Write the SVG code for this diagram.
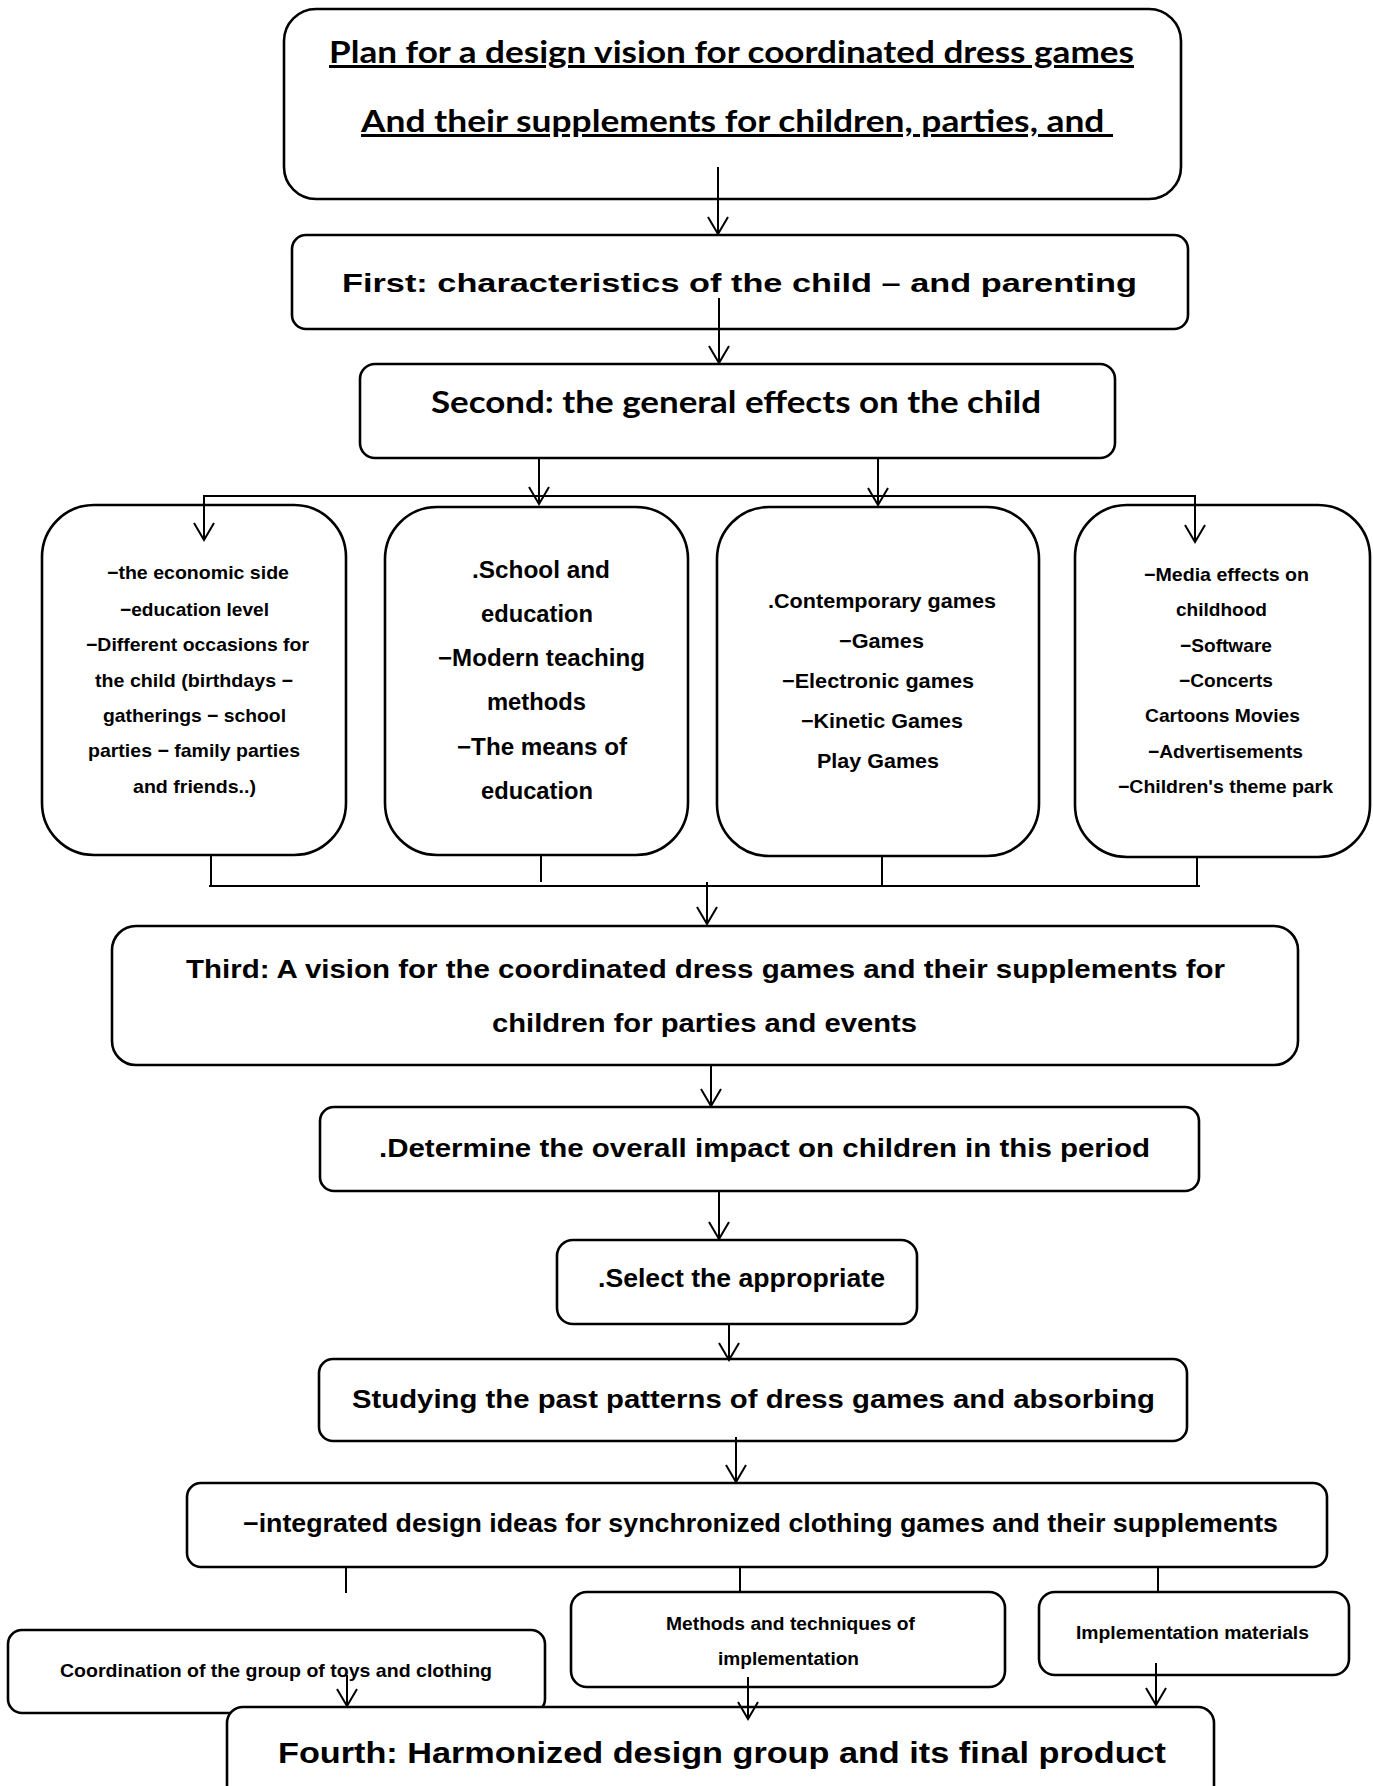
<svg xmlns="http://www.w3.org/2000/svg" width="1373" height="1786" viewBox="0 0 1373 1786">
<style>
.box{fill:#fff;stroke:#000;stroke-width:2.6}
.con{fill:none;stroke:#000;stroke-width:2}
.t{font-family:"Liberation Sans",Arial,sans-serif;font-weight:bold;fill:#000}
.c{font-family:Lato,"Open Sans",sans-serif;font-weight:bold;fill:#000}
</style>
<defs>
<marker id="arr" viewBox="-19 -12 21 24" refX="0" refY="0" markerWidth="21" markerHeight="24" markerUnits="userSpaceOnUse" orient="auto">
<path d="M-17,-10 L0,0 L-17,10" fill="none" stroke="#000" stroke-width="2"/>
</marker>
</defs>
<rect width="1373" height="1786" fill="#fff"/>

<g id="title">
<rect class="box" x="284" y="9" width="897" height="190" rx="32"/>
<text class="c" x="329" y="63" font-size="30" textLength="805" lengthAdjust="spacingAndGlyphs" text-decoration="underline">Plan for a design vision for coordinated dress games</text>
<text class="c" x="361" y="132" font-size="30" textLength="752" lengthAdjust="spacingAndGlyphs" text-decoration="underline" xml:space="preserve">And their supplements for children, parties, and </text>
</g>

<g id="first">
<rect class="box" x="292" y="235" width="896" height="94" rx="14"/>
<text class="t" x="342" y="292" font-size="26" textLength="795" lengthAdjust="spacingAndGlyphs">First: characteristics of the child – and parenting</text>
</g>

<g id="second">
<rect class="box" x="360" y="364" width="755" height="94" rx="15"/>
<text class="c" x="431" y="413" font-size="31" textLength="610" lengthAdjust="spacingAndGlyphs">Second: the general effects on the child</text>
</g>

<g id="boxA">
<rect class="box" x="42" y="505" width="304" height="350" rx="52"/>
<text class="t" x="107" y="579" font-size="19" textLength="182" lengthAdjust="spacingAndGlyphs">−the economic side</text>
<text class="t" x="120" y="616" font-size="19" textLength="149" lengthAdjust="spacingAndGlyphs">−education level</text>
<text class="t" x="86" y="651" font-size="19" textLength="223" lengthAdjust="spacingAndGlyphs">−Different occasions for</text>
<text class="t" x="95" y="687" font-size="19" textLength="198" lengthAdjust="spacingAndGlyphs">the child (birthdays −</text>
<text class="t" x="103" y="722" font-size="19" textLength="183" lengthAdjust="spacingAndGlyphs">gatherings − school</text>
<text class="t" x="88" y="757" font-size="19" textLength="212" lengthAdjust="spacingAndGlyphs">parties − family parties</text>
<text class="t" x="133" y="793" font-size="19" textLength="123" lengthAdjust="spacingAndGlyphs">and friends..)</text>
</g>

<g id="boxB">
<rect class="box" x="385" y="507" width="303" height="348" rx="52"/>
<text class="t" x="472" y="578" font-size="24" textLength="138" lengthAdjust="spacingAndGlyphs">.School and</text>
<text class="t" x="481" y="622" font-size="24" textLength="112" lengthAdjust="spacingAndGlyphs">education</text>
<text class="t" x="438" y="666" font-size="24" textLength="207" lengthAdjust="spacingAndGlyphs">−Modern teaching</text>
<text class="t" x="487" y="710" font-size="24" textLength="99" lengthAdjust="spacingAndGlyphs">methods</text>
<text class="t" x="457" y="755" font-size="24" textLength="170" lengthAdjust="spacingAndGlyphs">−The means of</text>
<text class="t" x="481" y="799" font-size="24" textLength="112" lengthAdjust="spacingAndGlyphs">education</text>
</g>

<g id="boxC">
<rect class="box" x="717" y="507" width="322" height="349" rx="52"/>
<text class="t" x="768" y="608" font-size="21" textLength="228" lengthAdjust="spacingAndGlyphs">.Contemporary games</text>
<text class="t" x="839" y="648" font-size="21" textLength="85" lengthAdjust="spacingAndGlyphs">−Games</text>
<text class="t" x="782" y="688" font-size="21" textLength="192" lengthAdjust="spacingAndGlyphs">−Electronic games</text>
<text class="t" x="801" y="728" font-size="21" textLength="162" lengthAdjust="spacingAndGlyphs">−Kinetic Games</text>
<text class="t" x="817" y="768" font-size="21" textLength="122" lengthAdjust="spacingAndGlyphs">Play Games</text>
</g>

<g id="boxD">
<rect class="box" x="1075" y="505" width="295" height="352" rx="52"/>
<text class="t" x="1144" y="581" font-size="19" textLength="165" lengthAdjust="spacingAndGlyphs">−Media effects on</text>
<text class="t" x="1176" y="616" font-size="19" textLength="91" lengthAdjust="spacingAndGlyphs">childhood</text>
<text class="t" x="1180" y="652" font-size="19" textLength="92" lengthAdjust="spacingAndGlyphs">−Software</text>
<text class="t" x="1179" y="687" font-size="19" textLength="94" lengthAdjust="spacingAndGlyphs">−Concerts</text>
<text class="t" x="1145" y="722" font-size="19" textLength="155" lengthAdjust="spacingAndGlyphs">Cartoons Movies</text>
<text class="t" x="1148" y="758" font-size="19" textLength="155" lengthAdjust="spacingAndGlyphs">−Advertisements</text>
<text class="t" x="1118" y="793" font-size="19" textLength="215" lengthAdjust="spacingAndGlyphs">−Children's theme park</text>
</g>

<g id="third">
<rect class="box" x="112" y="926" width="1186" height="139" rx="24"/>
<text class="t" x="186" y="978" font-size="25" textLength="1039" lengthAdjust="spacingAndGlyphs">Third: A vision for the coordinated dress games and their supplements for</text>
<text class="t" x="492" y="1032" font-size="25" textLength="425" lengthAdjust="spacingAndGlyphs">children for parties and events</text>
</g>

<g id="determine">
<rect class="box" x="320" y="1107" width="879" height="84" rx="14"/>
<text class="t" x="379" y="1157" font-size="25" textLength="771" lengthAdjust="spacingAndGlyphs">.Determine the overall impact on children in this period</text>
</g>

<g id="select">
<rect class="box" x="557" y="1240" width="360" height="84" rx="16"/>
<text class="t" x="598" y="1287" font-size="26" textLength="287" lengthAdjust="spacingAndGlyphs">.Select the appropriate</text>
</g>

<g id="studying">
<rect class="box" x="319" y="1359" width="868" height="82" rx="14"/>
<text class="t" x="352" y="1408" font-size="26" textLength="803" lengthAdjust="spacingAndGlyphs">Studying the past patterns of dress games and absorbing</text>
</g>

<g id="integrated">
<rect class="box" x="187" y="1483" width="1140" height="84" rx="14"/>
<text class="t" x="243" y="1532" font-size="25" textLength="1035" lengthAdjust="spacingAndGlyphs">−integrated design ideas for synchronized clothing games and their supplements</text>
</g>

<g id="coordination">
<rect class="box" x="8" y="1630" width="537" height="83" rx="14"/>
<text class="t" x="60" y="1677" font-size="19" textLength="432" lengthAdjust="spacingAndGlyphs">Coordination of the group of toys and clothing</text>
</g>

<g id="methods">
<rect class="box" x="571" y="1592" width="434" height="95" rx="16"/>
<text class="t" x="666" y="1630" font-size="18" textLength="249" lengthAdjust="spacingAndGlyphs">Methods and techniques of</text>
<text class="t" x="718" y="1665" font-size="18" textLength="141" lengthAdjust="spacingAndGlyphs">implementation</text>
</g>

<g id="materials">
<rect class="box" x="1039" y="1592" width="310" height="83" rx="16"/>
<text class="t" x="1076" y="1639" font-size="18" textLength="233" lengthAdjust="spacingAndGlyphs">Implementation materials</text>
</g>

<g id="fourth">
<rect class="box" x="227" y="1707" width="987" height="95" rx="16"/>
<text class="t" x="278" y="1763" font-size="29" textLength="888" lengthAdjust="spacingAndGlyphs">Fourth: Harmonized design group and its final product</text>
</g>

<g id="connectors">
<path class="con" d="M718,167 V234" marker-end="url(#arr)"/>
<path class="con" d="M719,298 V363" marker-end="url(#arr)"/>
<path class="con" d="M539,458 V504" marker-end="url(#arr)"/>
<path class="con" d="M878,458 V505" marker-end="url(#arr)"/>
<path class="con" d="M700,496 H204 V540" marker-end="url(#arr)"/>
<path class="con" d="M700,496 H1195 V542" marker-end="url(#arr)"/>
<path class="con" d="M211,855 V886 M541,855 V882 M882,856 V886 M1197,857 V886 M209,886 H1200"/>
<path class="con" d="M707,882 V924" marker-end="url(#arr)"/>
<path class="con" d="M711,1065 V1106" marker-end="url(#arr)"/>
<path class="con" d="M719,1191 V1239" marker-end="url(#arr)"/>
<path class="con" d="M729,1324 V1360" marker-end="url(#arr)"/>
<path class="con" d="M736,1437 V1482" marker-end="url(#arr)"/>
<path class="con" d="M346,1567 V1593 M740,1567 V1592 M1158,1567 V1593"/>
<path class="con" d="M347,1675 V1706" marker-end="url(#arr)"/>
<path class="con" d="M748,1677 V1719" marker-end="url(#arr)"/>
<path class="con" d="M1156,1663 V1705" marker-end="url(#arr)"/>
</g>
</svg>
